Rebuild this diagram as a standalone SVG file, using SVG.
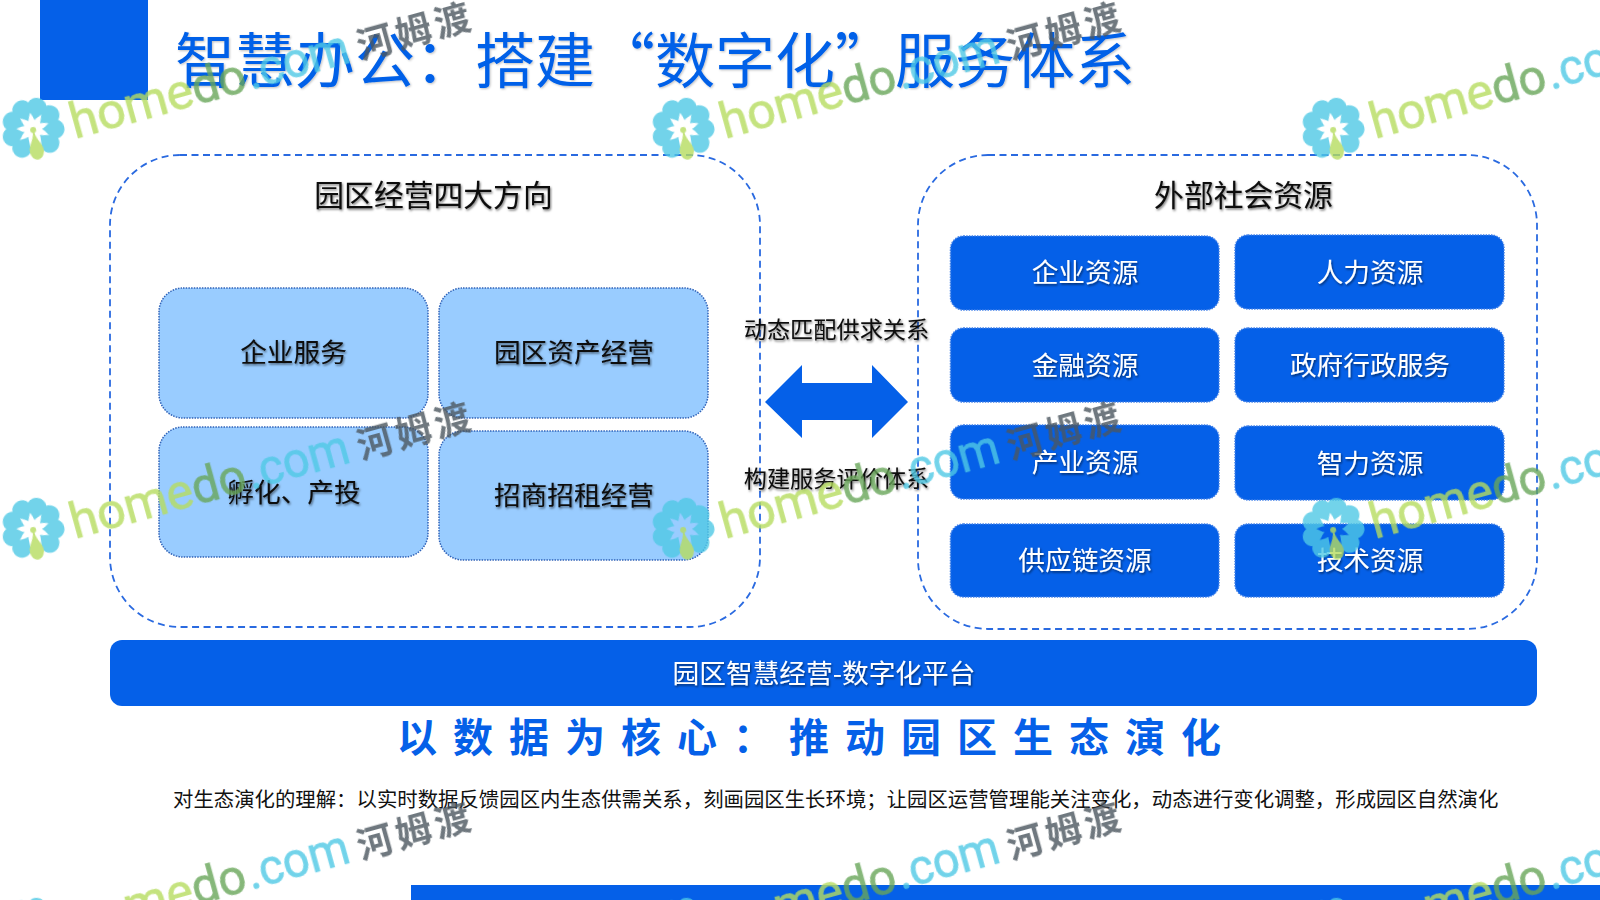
<svg xmlns="http://www.w3.org/2000/svg" width="1600" height="900" viewBox="0 0 1600 900">
<style>
text{font-family:"Noto Sans CJK SC","Liberation Sans",sans-serif;}
.c{text-anchor:middle;}
.sd{filter:url(#sh);}
.dk{fill:#0b0b0b;}
.wh{fill:#fff;}
.zone{fill:none;stroke:#2a6ae0;stroke-width:1.8;stroke-dasharray:7 4.5;}
.lt{fill:#99ccff;stroke:#2f62b8;stroke-width:1.5;stroke-dasharray:1.5 1.2;}
.bl{fill:#0560e8;stroke:#3f7fe8;stroke-width:1.5;stroke-dasharray:1.5 1.2;}
.pet{fill:#4fc9e5;}
.lim{fill:#b6dc5f;}
.wmt{font-family:"Roboto","Liberation Sans",sans-serif;font-weight:400;stroke-width:0.7;}
</style>
<defs>
<filter id="sh" x="-5%" y="-20%" width="110%" height="150%"><feDropShadow dx="1" dy="1.5" stdDeviation="0.9" flood-color="#000" flood-opacity="0.55"/></filter>
<filter id="sh2" x="-5%" y="-20%" width="110%" height="150%"><feDropShadow dx="1" dy="1" stdDeviation="0.8" flood-color="#000" flood-opacity="0.25"/></filter>
<path id="petal" d="M0 -9 C-2 -13 -9.5 -17.5 -9.5 -23 C-9.5 -28 -4.5 -31.5 0 -31.5 C4.5 -31.5 9.5 -28 9.5 -23 C9.5 -17.5 2 -13 0 -9Z"/>
<g id="wm" opacity="0.8">
<g transform="translate(33 129) rotate(-10)">
<use href="#petal" class="pet" transform="rotate(20)"/>
<use href="#petal" class="pet" transform="rotate(60)"/>
<use href="#petal" class="pet" transform="rotate(100)"/>
<use href="#petal" class="pet" transform="rotate(140)"/>
<use href="#petal" class="pet" transform="rotate(-20)"/>
<use href="#petal" class="pet" transform="rotate(-60)"/>
<use href="#petal" class="pet" transform="rotate(-100)"/>
<use href="#petal" class="pet" transform="rotate(-140)"/>
<circle class="lim" cx="0" cy="1" r="3"/>
<path class="lim" d="M-0.7 3 L0.7 3 C1.5 12 7.5 16 7 23 C6.6 28 3 31 0 31 C-3 31 -6.6 28 -7 23 C-7.5 16 -1.5 12 -0.7 3Z"/>
</g>
<g transform="translate(75 139) rotate(-15.5)">
<text class="wmt" font-size="50" x="0" y="0" fill="#b6dc5f" stroke="#b6dc5f" textLength="126" lengthAdjust="spacingAndGlyphs">home</text>
<text class="wmt" font-size="50" x="126" y="0" fill="#68a659" stroke="#68a659" textLength="55" lengthAdjust="spacingAndGlyphs">do</text>
<text class="wmt" font-size="50" x="183" y="0" fill="#4fc9e5" stroke="#4fc9e5" textLength="105" lengthAdjust="spacingAndGlyphs">.com</text>
<text x="297" y="0" font-size="36" letter-spacing="4" font-weight="700" fill="#4c575f" style="font-family:'Noto Sans CJK SC',sans-serif">河姆渡</text>
</g>
</g>
</defs>
<rect width="1600" height="900" fill="#fff"/>
<rect id="corner" x="40" y="0" width="108" height="100" fill="#0560e8"/>
<rect id="footer-bar" x="411" y="885" width="1189" height="15" fill="#0560e8"/>
<g id="title"><text x="175" y="83" font-size="60" fill="#0560e8" filter="url(#sh2)">智慧办公&#xFF1A;搭建“数字化”服务体系</text></g>

<g id="zone-left"><rect class="zone" x="110" y="155" width="650" height="472" rx="70"/>
<text class="c dk sd" x="433.5" y="206" font-size="29.8">园区经营四大方向</text></g>
<g id="zone-right"><rect class="zone" x="918" y="155" width="619" height="474" rx="70"/>
<text class="c dk sd" x="1243.5" y="206" font-size="29.8">外部社会资源</text></g>

<g id="n-qyfw"><rect class="lt" x="159" y="288" width="269" height="130" rx="24"/><text class="c dk sd" x="293.5" y="362" font-size="26.7">企业服务</text></g>
<g id="n-zcjy"><rect class="lt" x="439" y="288" width="269" height="130" rx="24"/><text class="c dk sd" x="574" y="362" font-size="26.7">园区资产经营</text></g>
<g id="n-fh"><rect class="lt" x="159" y="427" width="269" height="130" rx="24"/><text class="c dk sd" x="294" y="502" font-size="26.7">孵化、产投</text></g>
<g id="n-zszz"><rect class="lt" x="439" y="431" width="269" height="129" rx="24"/><text class="c dk sd" x="574" y="505" font-size="26.7">招商招租经营</text></g>

<g id="n-r1"><rect class="bl" x="950.5" y="236" width="268.5" height="74" rx="13"/><text class="c wh sd" x="1085" y="282" font-size="26.7">企业资源</text></g>
<g id="n-r2"><rect class="bl" x="1235" y="235" width="269" height="74" rx="13"/><text class="c wh sd" x="1370" y="282" font-size="26.7">人力资源</text></g>
<g id="n-r3"><rect class="bl" x="950.5" y="328" width="268.5" height="74" rx="13"/><text class="c wh sd" x="1085" y="375" font-size="26.7">金融资源</text></g>
<g id="n-r4"><rect class="bl" x="1235" y="328" width="269" height="74" rx="13"/><text class="c wh sd" x="1370" y="375" font-size="26.7">政府行政服务</text></g>
<g id="n-r5"><rect class="bl" x="950.5" y="425" width="268.5" height="74" rx="13"/><text class="c wh sd" x="1085" y="472" font-size="26.7">产业资源</text></g>
<g id="n-r6"><rect class="bl" x="1235" y="426" width="269" height="74" rx="13"/><text class="c wh sd" x="1370" y="473" font-size="26.7">智力资源</text></g>
<g id="n-r7"><rect class="bl" x="950.5" y="524" width="268.5" height="73" rx="13"/><text class="c wh sd" x="1085" y="570" font-size="26.7">供应链资源</text></g>
<g id="n-r8"><rect class="bl" x="1235" y="524" width="269" height="73" rx="13"/><text class="c wh sd" x="1370" y="570" font-size="26.7">技术资源</text></g>

<g id="connectors">
<path d="M765 402 L802 365 L802 383 L872 383 L872 365 L908 402 L872 438 L872 420 L802 420 L802 438Z" fill="#0560e8"/>
<text class="c dk sd" x="836.5" y="338" font-size="23.2">动态匹配供求关系</text>
<text class="c dk sd" x="836.5" y="487" font-size="23.2">构建服务评价体系</text>
</g>

<g id="platform"><rect x="110" y="640" width="1427" height="66" rx="12" fill="#0560e8"/><text class="c wh sd" x="824" y="683" font-size="26.7">园区智慧经营-数字化平台</text></g>
<g id="slogan"><text x="397" y="752" font-size="40" font-weight="700" letter-spacing="16" fill="#0560e8">以数据为核心&#xFF1A;推动园区生态演化</text></g>
<g id="note"><text x="173" y="807" font-size="20.4" fill="#111">对生态演化的理解&#xFF1A;以实时数据反馈园区内生态供需关系&#xFF0C;刻画园区生长环境&#xFF1B;让园区运营管理能关注变化&#xFF0C;动态进行变化调整&#xFF0C;形成园区自然演化</text></g>

<g id="watermarks">
<use href="#wm"/><use href="#wm" x="650"/><use href="#wm" x="1300"/>
<use href="#wm" y="400"/><use href="#wm" x="650" y="400"/><use href="#wm" x="1300" y="400"/>
<use href="#wm" y="800"/><use href="#wm" x="650" y="800"/><use href="#wm" x="1300" y="800"/>
</g>
</svg>
